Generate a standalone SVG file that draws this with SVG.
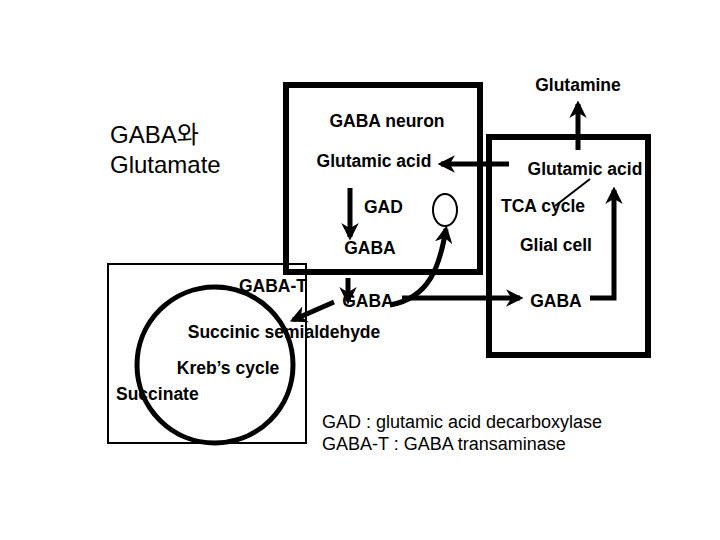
<svg xmlns="http://www.w3.org/2000/svg" width="720" height="540" viewBox="0 0 720 540">
<style>
.l{font-family:"Liberation Sans",Arial,sans-serif;font-size:17.5px;font-weight:bold;fill:#000}
.n{font-family:"Liberation Sans",Arial,"Noto Sans CJK KR",sans-serif;fill:#000}
.c{stroke:#000;stroke-width:5;fill:none}
</style>
<defs>
<marker id="a" viewBox="0 0 10 10" refX="8" refY="5" markerWidth="3.5" markerHeight="3.5" orient="auto"><path d="M0,0 L10,5 L0,10 L3,5 Z" fill="#000"/></marker>
</defs>
<rect width="720" height="540" fill="#fff"/>
<g id="neuron"><rect x="286" y="85" width="194" height="187" fill="none" stroke="#000" stroke-width="6"/>
<text class="l" x="387" y="127" text-anchor="middle">GABA neuron</text>
<text class="l" x="374" y="167" text-anchor="middle">Glutamic acid</text>
<text class="l" x="364" y="213">GAD</text>
<text class="l" x="370" y="254" text-anchor="middle">GABA</text>
<ellipse cx="445" cy="210" rx="12" ry="16" fill="none" stroke="#000" stroke-width="2"/></g>
<g id="glial"><rect x="489" y="137" width="159" height="218" fill="none" stroke="#000" stroke-width="6"/>
<text class="l" x="585" y="175" text-anchor="middle">Glutamic acid</text>
<text class="l" x="543" y="212" text-anchor="middle">TCA cycle</text>
<text class="l" x="556" y="251" text-anchor="middle">Glial cell</text>
<text class="l" x="556" y="307" text-anchor="middle">GABA</text></g>
<g id="glutamine"><text class="l" x="578" y="91" text-anchor="middle">Glutamine</text></g>
<g id="mito"><rect x="108" y="264" width="198" height="179" fill="none" stroke="#000" stroke-width="2"/>
<circle cx="215" cy="365" r="78" fill="none" stroke="#000" stroke-width="5"/>
<text class="l" x="273" y="292" text-anchor="middle">GABA-T</text>
<text class="l" x="284" y="338" text-anchor="middle">Succinic semialdehyde</text>
<text class="l" x="228" y="374" text-anchor="middle">Kreb’s cycle</text>
<text class="l" x="116" y="400">Succinate</text></g>
<g id="gaba-mid"><text class="l" x="368" y="307" text-anchor="middle">GABA</text></g>
<g id="title"><text class="n" x="110" y="143" font-size="24">GABA와</text>
<text class="n" x="110" y="173" font-size="24">Glutamate</text></g>
<g id="legend"><text class="n" x="322" y="428" font-size="18">GAD : glutamic acid decarboxylase</text>
<text class="n" x="322" y="450" font-size="18">GABA-T : GABA transaminase</text></g>
<g id="connectors">
<line class="c" x1="509" y1="164" x2="441" y2="164" marker-end="url(#a)"/>
<line class="c" x1="578" y1="150" x2="578" y2="104" marker-end="url(#a)"/>
<line class="c" x1="350" y1="188" x2="350" y2="237" marker-end="url(#a)"/>
<line class="c" x1="348" y1="278" x2="348" y2="301" stroke-width="3" marker-end="url(#a)"/>
<line class="c" x1="402" y1="298" x2="520" y2="298" marker-end="url(#a)"/>
<polyline class="c" points="590,298 614,298 614,190" marker-end="url(#a)"/>
<line x1="555" y1="206" x2="590" y2="179" stroke="#000" stroke-width="2"/>
<path class="c" d="M390,305 C430,298 440,265 446,229" marker-end="url(#a)"/>
<line class="c" x1="334" y1="302" x2="293" y2="320" marker-end="url(#a)"/>
</g>
</svg>
